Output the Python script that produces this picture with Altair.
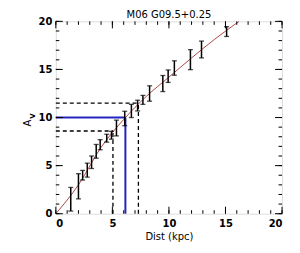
import altair as alt
import pandas as pd

# error bars
dist = [1.32, 2.0, 2.37, 2.78, 3.16, 3.57, 3.92, 4.5, 4.92, 5.36, 6.09, 6.68,
        7.23, 7.7, 8.29, 9.46, 9.93, 10.48, 11.9, 12.88, 15.1]
av_low = [0.27, 1.54, 3.5, 3.8, 4.7, 5.77, 6.65, 7.44, 7.75, 8.09, 9.15, 10.0,
          10.68, 11.37, 11.7, 12.7, 13.65, 14.4, 14.98, 16.2, 18.43]
av_high = [2.73, 4.16, 4.5, 5.26, 6.0, 7.2, 7.7, 8.26, 8.57, 9.73, 10.65, 11.37,
           11.8, 12.3, 13.3, 14.37, 14.95, 15.9, 17.06, 17.95, 19.45]

# fitted curve (red)
fit_d = [0, 2, 4, 6, 8, 10, 12, 14, 16.2]
fit_av = [0, 3.0, 6.9, 9.8, 12.2, 14.2, 16.2, 18.1, 20]

# guide lines
blue_d = [6.15]
blue_av = [10.0]
dash_d = [5.05, 7.3]
dash_av = [8.6, 11.5]

minor_ticks = list(range(0, 21))
major_ticks = [0, 5, 10, 15, 20]

title_text = ["M06  G09.5+0.25"]
x_title = "Dist (kpc)"
y_title_main = ["A"]
y_title_sub = ["V"]

W, H = 227, 193
FONT = "DejaVu Sans"

bars = pd.DataFrame({"d": dist, "lo": av_low, "hi": av_high})
fit = pd.DataFrame({"d": fit_d, "av": fit_av})
blue = pd.DataFrame({"d": blue_d, "av": blue_av, "z": [0] * len(blue_d)})
dash = pd.DataFrame({"d": dash_d, "av": dash_av, "z": [0] * len(dash_d)})
minor = pd.DataFrame({"v": minor_ticks})
major = pd.DataFrame({"v": major_ticks})

xs = alt.Scale(domain=[0, 20], nice=False, zero=False)
ys = alt.Scale(domain=[0, 20], nice=False, zero=False)

xaxis = alt.Axis(values=major_ticks, ticks=False, domain=False, grid=False,
                 labelFont=FONT, labelFontSize=10, labelFontWeight="bold",
                 labelPadding=5, labelColor="black", title=x_title,
                 titleFont=FONT, titleFontSize=10, titleFontWeight="normal",
                 titlePadding=3, titleColor="black")
yaxis = alt.Axis(values=major_ticks, ticks=False, domain=False, grid=False,
                 labelFont=FONT, labelFontSize=10, labelFontWeight="bold",
                 labelPadding=4, labelColor="black", title=None)

base_x = alt.X("d:Q", scale=xs, axis=xaxis)
base_y = alt.Y("av:Q", scale=ys, axis=yaxis)

fit_line = alt.Chart(fit).mark_line(color="#b04848", strokeWidth=1,
                                    interpolate="monotone", clip=True).encode(
    x=base_x, y=base_y)

# horizontal & vertical guides
blue_h = alt.Chart(blue).mark_rule(color="#2424c0", strokeWidth=2).encode(
    x=alt.X("z:Q", scale=xs), x2="d:Q", y=alt.Y("av:Q", scale=ys))
blue_v = alt.Chart(blue).mark_rule(color="#2424c0", strokeWidth=2).encode(
    x=alt.X("d:Q", scale=xs), y=alt.Y("z:Q", scale=ys), y2="av:Q")
dash_h = alt.Chart(dash).mark_rule(color="black", strokeWidth=1.3,
                                   strokeDash=[4, 3]).encode(
    x=alt.X("z:Q", scale=xs), x2="d:Q", y=alt.Y("av:Q", scale=ys))
dash_v = alt.Chart(dash).mark_rule(color="black", strokeWidth=1.3,
                                   strokeDash=[4, 3]).encode(
    x=alt.X("d:Q", scale=xs), y=alt.Y("z:Q", scale=ys), y2="av:Q")

err = alt.Chart(bars).mark_rule(color="black", strokeWidth=1.5).encode(
    x=alt.X("d:Q", scale=xs), y=alt.Y("lo:Q", scale=ys), y2="hi:Q")
cap_lo = alt.Chart(bars).mark_tick(color="black", orient="horizontal",
                                   size=5, thickness=1.3).encode(
    x=alt.X("d:Q", scale=xs), y=alt.Y("lo:Q", scale=ys))
cap_hi = alt.Chart(bars).mark_tick(color="black", orient="horizontal",
                                   size=5, thickness=1.3).encode(
    x=alt.X("d:Q", scale=xs), y=alt.Y("hi:Q", scale=ys))


def tick_layers(df, length):
    r = dict(color="black", strokeWidth=1)
    bot = alt.Chart(df).mark_rule(**r).encode(
        x=alt.X("v:Q", scale=xs), y=alt.value(H), y2=alt.value(H - length))
    top = alt.Chart(df).mark_rule(**r).encode(
        x=alt.X("v:Q", scale=xs), y=alt.value(0), y2=alt.value(length))
    left = alt.Chart(df).mark_rule(**r).encode(
        y=alt.Y("v:Q", scale=ys), x=alt.value(0), x2=alt.value(length))
    right = alt.Chart(df).mark_rule(**r).encode(
        y=alt.Y("v:Q", scale=ys), x=alt.value(W), x2=alt.value(W - length))
    return [bot, top, left, right]


title_mark = alt.Chart(pd.DataFrame({"t": title_text})).mark_text(
    font=FONT, fontSize=10, color="black", align="center",
    baseline="alphabetic").encode(
    text="t:N", x=alt.value(W / 2), y=alt.value(-3.5))
ytitle_a = alt.Chart(pd.DataFrame({"t": y_title_main})).mark_text(
    font=FONT, fontSize=10, angle=270, color="black", align="center",
    baseline="middle").encode(text="t:N", x=alt.value(-28), y=alt.value(102))
ytitle_v = alt.Chart(pd.DataFrame({"t": y_title_sub})).mark_text(
    font=FONT, fontSize=7, fontWeight="bold", angle=270, color="black",
    align="center", baseline="middle").encode(
    text="t:N", x=alt.value(-23), y=alt.value(95))

layers = [fit_line, blue_h, blue_v, dash_h, dash_v, err, cap_lo, cap_hi]
layers += tick_layers(minor, 3.5) + tick_layers(major, 7)
layers += [title_mark, ytitle_a, ytitle_v]

chart = alt.layer(*layers).properties(
    width=W, height=H,
    autosize=alt.AutoSizeParams(type="none"),
    padding={"left": 48, "top": 13, "right": 10, "bottom": 31},
).configure_view(stroke="black", strokeWidth=1.5).configure(background="white")

chart.save("out.html", embed_options={"renderer": "svg", "actions": False})
